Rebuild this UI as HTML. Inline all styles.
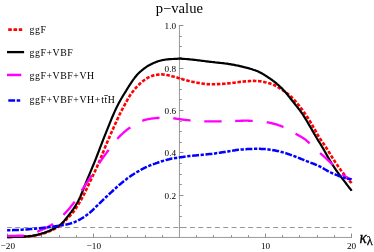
<!DOCTYPE html>
<html><head><meta charset="utf-8"><title>p-value</title>
<style>
html,body{margin:0;padding:0;background:#fff;}
body{width:374px;height:252px;overflow:hidden;font-family:"Liberation Serif",serif;}
svg{display:block;will-change:transform;}
svg text{font-family:"Liberation Serif",serif;fill:#000;}
</style></head><body>
<svg width="374" height="252" viewBox="0 0 374 252">
<rect width="374" height="252" fill="#fff"/>
<g stroke="#8c8c8c" stroke-width="1" fill="none">
<line x1="7" y1="237.45" x2="352" y2="237.45" stroke-width="0.88"/>
<line x1="179.45" y1="237.45" x2="179.45" y2="25" stroke-width="0.88"/>
<line x1="7.5" y1="237.45" x2="7.5" y2="233.55"/><line x1="24.5" y1="237.45" x2="24.5" y2="235.15"/><line x1="41.5" y1="237.45" x2="41.5" y2="235.15"/><line x1="59.5" y1="237.45" x2="59.5" y2="235.15"/><line x1="76.5" y1="237.45" x2="76.5" y2="235.15"/><line x1="93.5" y1="237.45" x2="93.5" y2="233.55"/><line x1="110.5" y1="237.45" x2="110.5" y2="235.15"/><line x1="127.5" y1="237.45" x2="127.5" y2="235.15"/><line x1="145.5" y1="237.45" x2="145.5" y2="235.15"/><line x1="162.5" y1="237.45" x2="162.5" y2="235.15"/><line x1="196.5" y1="237.45" x2="196.5" y2="235.15"/><line x1="213.5" y1="237.45" x2="213.5" y2="235.15"/><line x1="231.5" y1="237.45" x2="231.5" y2="235.15"/><line x1="248.5" y1="237.45" x2="248.5" y2="235.15"/><line x1="265.5" y1="237.45" x2="265.5" y2="233.55"/><line x1="282.5" y1="237.45" x2="282.5" y2="235.15"/><line x1="299.5" y1="237.45" x2="299.5" y2="235.15"/><line x1="317.5" y1="237.45" x2="317.5" y2="235.15"/><line x1="334.5" y1="237.45" x2="334.5" y2="235.15"/><line x1="351.5" y1="237.45" x2="351.5" y2="233.55"/><line x1="179.45" y1="227.5" x2="181.75" y2="227.5"/><line x1="179.45" y1="216.5" x2="181.75" y2="216.5"/><line x1="179.45" y1="205.5" x2="181.75" y2="205.5"/><line x1="179.45" y1="195.5" x2="183.45" y2="195.5"/><line x1="179.45" y1="184.5" x2="181.75" y2="184.5"/><line x1="179.45" y1="174.5" x2="181.75" y2="174.5"/><line x1="179.45" y1="163.5" x2="181.75" y2="163.5"/><line x1="179.45" y1="152.5" x2="183.45" y2="152.5"/><line x1="179.45" y1="142.5" x2="181.75" y2="142.5"/><line x1="179.45" y1="131.5" x2="181.75" y2="131.5"/><line x1="179.45" y1="121.5" x2="181.75" y2="121.5"/><line x1="179.45" y1="110.5" x2="183.45" y2="110.5"/><line x1="179.45" y1="99.5" x2="181.75" y2="99.5"/><line x1="179.45" y1="89.5" x2="181.75" y2="89.5"/><line x1="179.45" y1="78.5" x2="181.75" y2="78.5"/><line x1="179.45" y1="68.5" x2="183.45" y2="68.5"/><line x1="179.45" y1="57.5" x2="181.75" y2="57.5"/><line x1="179.45" y1="46.5" x2="181.75" y2="46.5"/><line x1="179.45" y1="36.5" x2="181.75" y2="36.5"/><line x1="179.45" y1="25.5" x2="183.45" y2="25.5"/>
</g>
<line x1="6.95" y1="227.5" x2="351.7" y2="227.5" stroke="#969696" stroke-width="1" stroke-dasharray="4.9 3.42"/>
<g fill="none" stroke-width="2.2" stroke-linejoin="round">
<path d="M7.1,236.9 L8.1,236.9 L9.1,236.9 L10.1,236.9 L11.1,236.9 L12.1,236.9 L13.1,236.8 L14.1,236.8 L15.1,236.8 L16.1,236.8 L17.1,236.8 L18.1,236.7 L19.1,236.7 L20.1,236.7 L21.1,236.7 L22.1,236.6 L23.1,236.6 L24.1,236.5 L25.1,236.5 L26.1,236.4 L27.1,236.3 L28.1,236.3 L29.1,236.2 L30.1,236.1 L31.1,236.0 L32.1,235.9 L33.1,235.8 L34.1,235.6 L35.1,235.5 L36.1,235.3 L37.1,235.1 L38.1,234.9 L39.1,234.6 L40.1,234.4 L41.1,234.1 L42.1,233.9 L43.1,233.6 L44.1,233.3 L45.1,232.9 L46.1,232.6 L47.1,232.2 L48.1,231.8 L49.1,231.4 L50.1,231.0 L51.1,230.5 L52.1,230.1 L53.1,229.6 L54.1,229.1 L55.1,228.5 L56.1,228.0 L57.1,227.5 L58.1,226.9 L59.1,226.2 L60.1,225.6 L61.1,224.8 L62.1,223.9 L63.1,223.0 L64.1,221.9 L65.1,220.9 L66.1,219.8 L67.1,218.7 L68.1,217.7 L69.1,216.7 L70.1,215.6 L71.1,214.6 L72.1,213.5 L73.1,212.3 L74.1,211.0 L75.1,209.5 L76.1,208.0 L77.1,206.4 L78.1,204.8 L79.1,203.2 L80.1,201.5 L81.1,199.8 L82.1,198.0 L83.1,196.1 L84.1,194.2 L85.1,192.1 L86.1,190.0 L87.1,187.9 L88.1,185.8 L89.1,183.6 L90.1,181.5 L91.1,179.4 L92.1,177.3 L93.1,175.2 L94.1,173.1 L95.1,171.0 L96.1,168.8 L97.1,166.6 L98.1,164.3 L99.1,162.0 L100.1,159.6 L101.1,157.2 L102.1,154.7 L103.1,152.2 L104.1,149.8 L105.1,147.3 L106.1,144.9 L107.1,142.6 L108.1,140.2 L109.1,137.9 L110.1,135.6 L111.1,133.3 L112.1,131.0 L113.1,128.8 L114.1,126.5 L115.1,124.3 L116.1,122.1 L117.1,119.9 L118.1,117.7 L119.1,115.5 L120.1,113.5 L121.1,111.5 L122.1,109.6 L123.1,107.7 L124.1,105.9 L125.1,104.1 L126.1,102.3 L127.1,100.4 L128.1,98.6 L129.1,96.9 L130.1,95.3 L131.1,93.9 L132.1,92.5 L133.1,91.2 L134.1,89.9 L135.1,88.7 L136.1,87.6 L137.1,86.5 L138.1,85.5 L139.1,84.5 L140.1,83.5 L141.1,82.6 L142.1,81.8 L143.1,81.0 L144.1,80.2 L145.1,79.5 L146.1,78.8 L147.1,78.2 L148.1,77.6 L149.1,77.1 L150.1,76.7 L151.1,76.3 L152.1,75.9 L153.1,75.6 L154.1,75.3 L155.1,75.0 L156.1,74.9 L157.1,74.7 L158.1,74.6 L159.1,74.5 L160.1,74.4 L161.1,74.4 L162.1,74.4 L163.1,74.5 L164.1,74.6 L165.1,74.7 L166.1,74.9 L167.1,75.1 L168.1,75.3 L169.1,75.5 L170.1,75.8 L171.1,76.0 L172.1,76.3 L173.1,76.5 L174.1,76.8 L175.1,77.1 L176.1,77.4 L177.1,77.6 L178.1,77.9 L179.1,78.2 L180.1,78.5 L181.1,78.8 L182.1,79.1 L183.1,79.4 L184.1,79.7 L185.1,80.0 L186.1,80.2 L187.1,80.5 L188.1,80.8 L189.1,81.0 L190.1,81.3 L191.1,81.5 L192.1,81.7 L193.1,81.9 L194.1,82.1 L195.1,82.3 L196.1,82.5 L197.1,82.7 L198.1,82.9 L199.1,83.0 L200.1,83.2 L201.1,83.4 L202.1,83.5 L203.1,83.7 L204.1,83.8 L205.1,83.9 L206.1,84.0 L207.1,84.1 L208.1,84.2 L209.1,84.2 L210.1,84.3 L211.1,84.3 L212.1,84.3 L213.1,84.3 L214.1,84.2 L215.1,84.2 L216.1,84.2 L217.1,84.1 L218.1,84.1 L219.1,84.0 L220.1,84.0 L221.1,83.9 L222.1,83.9 L223.1,83.8 L224.1,83.7 L225.1,83.7 L226.1,83.6 L227.1,83.5 L228.1,83.4 L229.1,83.3 L230.1,83.2 L231.1,83.1 L232.1,83.0 L233.1,82.8 L234.1,82.7 L235.1,82.6 L236.1,82.4 L237.1,82.3 L238.1,82.2 L239.1,82.0 L240.1,81.9 L241.1,81.8 L242.1,81.7 L243.1,81.6 L244.1,81.5 L245.1,81.4 L246.1,81.3 L247.1,81.2 L248.1,81.2 L249.1,81.1 L250.1,81.0 L251.1,81.0 L252.1,80.9 L253.1,80.9 L254.1,80.9 L255.1,81.0 L256.1,81.0 L257.1,81.1 L258.1,81.1 L259.1,81.2 L260.1,81.3 L261.1,81.4 L262.1,81.6 L263.1,81.7 L264.1,81.9 L265.1,82.2 L266.1,82.4 L267.1,82.7 L268.1,82.9 L269.1,83.2 L270.1,83.5 L271.1,83.9 L272.1,84.2 L273.1,84.6 L274.1,85.0 L275.1,85.5 L276.1,86.0 L277.1,86.5 L278.1,87.2 L279.1,87.8 L280.1,88.5 L281.1,89.2 L282.1,89.9 L283.1,90.5 L284.1,91.2 L285.1,91.9 L286.1,92.6 L287.1,93.3 L288.1,94.1 L289.1,94.9 L290.1,95.8 L291.1,96.7 L292.1,97.7 L293.1,98.8 L294.1,99.8 L295.1,100.9 L296.1,102.1 L297.1,103.3 L298.1,104.5 L299.1,105.7 L300.1,107.0 L301.1,108.3 L302.1,109.6 L303.1,111.0 L304.1,112.4 L305.1,113.8 L306.1,115.3 L307.1,116.8 L308.1,118.3 L309.1,119.9 L310.1,121.5 L311.1,123.2 L312.1,124.9 L313.1,126.7 L314.1,128.4 L315.1,130.2 L316.1,132.0 L317.1,133.8 L318.1,135.5 L319.1,137.1 L320.1,138.6 L321.1,140.1 L322.1,141.6 L323.1,143.1 L324.1,144.5 L325.1,146.0 L326.1,147.5 L327.1,149.1 L328.1,150.7 L329.1,152.3 L330.1,153.9 L331.1,155.6 L332.1,157.2 L333.1,158.8 L334.1,160.3 L335.1,161.9 L336.1,163.4 L337.1,164.8 L338.1,166.3 L339.1,167.7 L340.1,169.1 L341.1,170.5 L342.1,171.8 L343.1,173.0 L344.1,174.3 L345.1,175.5 L346.1,176.8 L347.1,178.0 L348.1,179.2 L349.1,180.5 L350.1,181.6 L351.1,182.7 L351.5,183.7" stroke="#f00" stroke-width="2.6" stroke-dasharray="3.5 1.67" stroke-dashoffset="4.94"/>
<path d="M7.1,237.1 L8.1,237.1 L9.1,237.1 L10.1,237.1 L11.1,237.1 L12.1,237.1 L13.1,237.0 L14.1,237.0 L15.1,237.0 L16.1,237.0 L17.1,237.0 L18.1,236.9 L19.1,236.9 L20.1,236.9 L21.1,236.9 L22.1,236.8 L23.1,236.8 L24.1,236.7 L25.1,236.6 L26.1,236.5 L27.1,236.4 L28.1,236.4 L29.1,236.2 L30.1,236.1 L31.1,236.0 L32.1,235.9 L33.1,235.7 L34.1,235.5 L35.1,235.3 L36.1,235.1 L37.1,234.8 L38.1,234.6 L39.1,234.3 L40.1,234.0 L41.1,233.7 L42.1,233.4 L43.1,233.1 L44.1,232.8 L45.1,232.4 L46.1,232.1 L47.1,231.7 L48.1,231.3 L49.1,230.9 L50.1,230.4 L51.1,229.9 L52.1,229.4 L53.1,228.9 L54.1,228.4 L55.1,227.9 L56.1,227.3 L57.1,226.8 L58.1,226.2 L59.1,225.6 L60.1,224.9 L61.1,224.1 L62.1,223.1 L63.1,222.0 L64.1,220.9 L65.1,219.7 L66.1,218.5 L67.1,217.2 L68.1,216.0 L69.1,214.7 L70.1,213.4 L71.1,212.1 L72.1,210.7 L73.1,209.3 L74.1,207.8 L75.1,206.3 L76.1,204.7 L77.1,203.0 L78.1,201.2 L79.1,199.2 L80.1,197.1 L81.1,194.8 L82.1,192.4 L83.1,189.9 L84.1,187.4 L85.1,184.9 L86.1,182.4 L87.1,179.9 L88.1,177.5 L89.1,175.1 L90.1,172.7 L91.1,170.3 L92.1,167.9 L93.1,165.5 L94.1,163.1 L95.1,160.6 L96.1,158.1 L97.1,155.5 L98.1,152.9 L99.1,150.3 L100.1,147.7 L101.1,145.1 L102.1,142.5 L103.1,139.9 L104.1,137.4 L105.1,134.9 L106.1,132.4 L107.1,129.8 L108.1,127.3 L109.1,124.8 L110.1,122.3 L111.1,119.9 L112.1,117.5 L113.1,115.2 L114.1,112.9 L115.1,110.6 L116.1,108.5 L117.1,106.4 L118.1,104.5 L119.1,102.6 L120.1,100.8 L121.1,99.0 L122.1,97.3 L123.1,95.6 L124.1,94.0 L125.1,92.4 L126.1,90.8 L127.1,89.1 L128.1,87.5 L129.1,85.9 L130.1,84.3 L131.1,82.8 L132.1,81.3 L133.1,79.9 L134.1,78.6 L135.1,77.2 L136.1,76.0 L137.1,74.8 L138.1,73.8 L139.1,72.8 L140.1,71.8 L141.1,71.0 L142.1,70.1 L143.1,69.3 L144.1,68.5 L145.1,67.8 L146.1,67.1 L147.1,66.4 L148.1,65.8 L149.1,65.3 L150.1,64.7 L151.1,64.2 L152.1,63.7 L153.1,63.2 L154.1,62.8 L155.1,62.4 L156.1,62.0 L157.1,61.6 L158.1,61.3 L159.1,61.0 L160.1,60.7 L161.1,60.5 L162.1,60.2 L163.1,60.0 L164.1,59.8 L165.1,59.7 L166.1,59.5 L167.1,59.4 L168.1,59.3 L169.1,59.2 L170.1,59.2 L171.1,59.1 L172.1,59.0 L173.1,59.0 L174.1,58.9 L175.1,58.9 L176.1,58.8 L177.1,58.8 L178.1,58.7 L179.1,58.7 L180.1,58.7 L181.1,58.7 L182.1,58.8 L183.1,58.8 L184.1,58.9 L185.1,59.0 L186.1,59.0 L187.1,59.1 L188.1,59.2 L189.1,59.3 L190.1,59.4 L191.1,59.5 L192.1,59.6 L193.1,59.7 L194.1,59.8 L195.1,59.9 L196.1,60.0 L197.1,60.2 L198.1,60.3 L199.1,60.4 L200.1,60.5 L201.1,60.7 L202.1,60.8 L203.1,60.9 L204.1,61.0 L205.1,61.2 L206.1,61.3 L207.1,61.4 L208.1,61.6 L209.1,61.7 L210.1,61.8 L211.1,61.9 L212.1,62.0 L213.1,62.1 L214.1,62.2 L215.1,62.4 L216.1,62.5 L217.1,62.6 L218.1,62.7 L219.1,62.8 L220.1,62.9 L221.1,63.0 L222.1,63.1 L223.1,63.2 L224.1,63.3 L225.1,63.5 L226.1,63.6 L227.1,63.7 L228.1,63.9 L229.1,64.1 L230.1,64.2 L231.1,64.4 L232.1,64.6 L233.1,64.7 L234.1,64.9 L235.1,65.1 L236.1,65.3 L237.1,65.5 L238.1,65.7 L239.1,65.9 L240.1,66.2 L241.1,66.4 L242.1,66.6 L243.1,66.8 L244.1,67.1 L245.1,67.3 L246.1,67.6 L247.1,67.8 L248.1,68.1 L249.1,68.4 L250.1,68.7 L251.1,69.0 L252.1,69.3 L253.1,69.7 L254.1,70.0 L255.1,70.3 L256.1,70.7 L257.1,71.1 L258.1,71.5 L259.1,72.0 L260.1,72.5 L261.1,73.0 L262.1,73.5 L263.1,74.1 L264.1,74.7 L265.1,75.4 L266.1,76.0 L267.1,76.6 L268.1,77.3 L269.1,78.0 L270.1,78.6 L271.1,79.3 L272.1,80.0 L273.1,80.8 L274.1,81.5 L275.1,82.3 L276.1,83.1 L277.1,84.0 L278.1,84.8 L279.1,85.7 L280.1,86.7 L281.1,87.6 L282.1,88.6 L283.1,89.7 L284.1,90.7 L285.1,91.8 L286.1,93.0 L287.1,94.2 L288.1,95.5 L289.1,96.7 L290.1,98.0 L291.1,99.3 L292.1,100.5 L293.1,101.8 L294.1,103.0 L295.1,104.3 L296.1,105.6 L297.1,106.8 L298.1,108.1 L299.1,109.4 L300.1,110.7 L301.1,112.1 L302.1,113.5 L303.1,115.0 L304.1,116.6 L305.1,118.2 L306.1,119.8 L307.1,121.5 L308.1,123.2 L309.1,124.9 L310.1,126.6 L311.1,128.3 L312.1,130.1 L313.1,131.8 L314.1,133.6 L315.1,135.3 L316.1,137.0 L317.1,138.7 L318.1,140.3 L319.1,141.9 L320.1,143.5 L321.1,145.1 L322.1,146.8 L323.1,148.4 L324.1,150.2 L325.1,152.0 L326.1,153.8 L327.1,155.6 L328.1,157.4 L329.1,159.1 L330.1,160.8 L331.1,162.5 L332.1,164.1 L333.1,165.6 L334.1,167.1 L335.1,168.6 L336.1,170.1 L337.1,171.5 L338.1,173.0 L339.1,174.3 L340.1,175.7 L341.1,177.0 L342.1,178.3 L343.1,179.6 L344.1,180.9 L345.1,182.2 L346.1,183.5 L347.1,184.9 L348.1,186.2 L349.1,187.5 L350.1,188.7 L351.1,189.9 L351.5,190.9" stroke="#000"/>
<path d="M7.1,235.8 L8.1,235.8 L9.1,235.8 L10.1,235.8 L11.1,235.8 L12.1,235.8 L13.1,235.8 L14.1,235.8 L15.1,235.8 L16.1,235.8 L17.1,235.7 L18.1,235.7 L19.1,235.7 L20.1,235.7 L21.1,235.7 L22.1,235.7 L23.1,235.6 L24.1,235.6 L24.1,235.6 M37.2,231.6 L38.1,231.3 L39.1,230.9 L40.1,230.5 L41.1,230.1 L42.1,229.7 L43.1,229.2 L44.1,228.8 L45.1,228.4 L46.1,227.9 L47.1,227.4 L48.1,226.9 L49.1,226.4 L50.1,225.8 L51.1,225.2 L52.1,224.6 L53.0,224.0 M63.5,214.8 L64.1,214.2 L65.1,213.2 L66.1,212.1 L67.1,211.0 L68.1,209.9 L69.1,208.7 L70.1,207.6 L71.1,206.3 L72.1,205.1 L73.1,203.8 L74.1,202.4 L74.6,201.6 M81.6,190.5 L82.1,189.8 L83.1,188.3 L84.1,186.8 L85.1,185.3 L86.1,183.8 L87.1,182.4 L88.1,180.9 L89.1,179.4 L90.1,177.9 L91.1,176.3 L91.9,175.0 M99.1,163.3 L100.1,161.8 L101.1,160.4 L102.1,158.9 L103.1,157.5 L104.1,156.1 L105.1,154.7 L106.1,153.4 L107.1,152.0 L108.1,150.7 L108.7,149.8 M117.3,138.8 L118.1,138.0 L119.1,136.9 L120.1,135.9 L121.1,134.9 L122.1,134.0 L123.1,133.1 L124.1,132.2 L125.1,131.3 L126.1,130.5 L127.1,129.7 L128.1,128.9 L129.1,128.2 L130.1,127.5 L130.3,127.3 M142.3,120.8 L143.1,120.5 L144.1,120.2 L145.1,119.9 L146.1,119.6 L147.1,119.4 L148.1,119.2 L149.1,119.0 L150.1,118.8 L151.1,118.7 L152.1,118.5 L153.1,118.4 L154.1,118.3 L155.1,118.2 L156.1,118.1 L157.1,118.0 L158.1,118.0 L159.1,117.9 L159.5,117.9 M173.2,118.3 L174.1,118.4 L175.1,118.5 L176.1,118.6 L177.1,118.8 L178.1,118.9 L179.1,119.1 L180.1,119.2 L181.1,119.4 L182.1,119.5 L183.1,119.6 L184.1,119.8 L185.1,119.9 L186.1,120.0 L187.1,120.1 L188.1,120.2 L189.1,120.3 L190.1,120.4 L190.6,120.4 M204.3,121.3 L205.1,121.3 L206.1,121.3 L207.1,121.3 L208.1,121.3 L209.1,121.3 L210.1,121.3 L211.1,121.3 L212.1,121.3 L213.1,121.3 L214.1,121.3 L215.1,121.3 L216.1,121.3 L217.1,121.3 L218.1,121.3 L219.1,121.3 L220.1,121.3 L221.1,121.3 L221.6,121.3 M235.2,121.0 L236.1,121.0 L237.1,120.9 L238.1,120.9 L239.1,120.8 L240.1,120.8 L241.1,120.7 L242.1,120.7 L243.1,120.7 L244.1,120.6 L245.1,120.6 L246.1,120.6 L247.1,120.6 L248.1,120.7 L249.1,120.7 L250.1,120.8 L251.1,120.8 L252.1,120.9 L252.7,120.9 M266.7,122.2 L267.1,122.3 L268.1,122.4 L269.1,122.6 L270.1,122.8 L271.1,123.0 L272.1,123.3 L273.1,123.5 L274.1,123.8 L275.1,124.1 L276.1,124.4 L277.1,124.7 L278.1,125.0 L279.1,125.4 L280.1,125.7 L281.1,126.1 L282.1,126.5 L283.1,126.9 L283.5,127.0 M295.5,133.7 L296.1,134.0 L297.1,134.6 L298.1,135.1 L299.1,135.7 L300.1,136.2 L301.1,136.8 L302.1,137.4 L303.1,138.1 L304.1,138.7 L305.1,139.4 L306.1,140.2 L307.1,141.1 L308.1,141.9 L309.1,142.8 L309.6,143.3 M320.1,153.0 L321.1,153.9 L322.1,154.8 L323.1,155.7 L324.1,156.6 L325.1,157.5 L326.1,158.5 L327.1,159.4 L328.1,160.3 L329.1,161.2 L330.1,162.2 L331.1,163.1 L332.1,164.1 L332.7,164.8 M342.1,174.3 L343.1,175.0 L344.1,175.7 L345.1,176.3 L346.1,176.9 L347.1,177.5 L348.1,178.0 L349.1,178.5 L350.1,178.9 L351.1,179.2 L351.5,179.5" stroke="#f0f" stroke-width="2.35"/>
<path d="M7.1,230.3 L8.1,230.3 L9.1,230.3 L10.1,230.2 L11.1,230.2 L12.1,230.2 L13.1,230.1 L14.1,230.1 L15.1,230.1 L16.1,230.0 L17.1,230.0 L18.1,229.9 L19.1,229.9 L20.1,229.8 L21.1,229.7 L22.1,229.7 L23.1,229.6 L24.1,229.6 L25.1,229.5 L26.1,229.4 L27.1,229.4 L28.1,229.3 L29.1,229.2 L30.1,229.1 L31.1,229.1 L32.1,229.0 L33.1,228.9 L34.1,228.8 L35.1,228.7 L36.1,228.6 L37.1,228.5 L38.1,228.4 L39.1,228.3 L40.1,228.2 L41.1,228.1 L42.1,228.0 L43.1,227.8 L44.1,227.7 L45.1,227.6 L46.1,227.5 L47.1,227.3 L48.1,227.2 L49.1,227.1 L50.1,227.0 L51.1,226.8 L52.1,226.7 L53.1,226.6 L54.1,226.4 L55.1,226.3 L56.1,226.2 L57.1,226.0 L58.1,225.9 L59.1,225.7 L60.1,225.6 L61.1,225.4 L62.1,225.3 L63.1,225.1 L64.1,225.0 L65.1,224.8 L66.1,224.6 L67.1,224.4 L68.1,224.1 L69.1,223.9 L70.1,223.6 L71.1,223.3 L72.1,223.0 L73.1,222.6 L74.1,222.3 L75.1,221.9 L76.1,221.4 L77.1,221.0 L78.1,220.5 L79.1,219.9 L80.1,219.4 L81.1,218.8 L82.1,218.2 L83.1,217.6 L84.1,216.9 L85.1,216.2 L86.1,215.5 L87.1,214.8 L88.1,214.0 L89.1,213.2 L90.1,212.4 L91.1,211.5 L92.1,210.6 L93.1,209.7 L94.1,208.7 L95.1,207.7 L96.1,206.7 L97.1,205.7 L98.1,204.8 L99.1,203.8 L100.1,202.8 L101.1,201.8 L102.1,200.9 L103.1,199.9 L104.1,199.0 L105.1,198.0 L106.1,197.0 L107.1,196.1 L108.1,195.2 L109.1,194.2 L110.1,193.3 L111.1,192.4 L112.1,191.5 L113.1,190.5 L114.1,189.6 L115.1,188.7 L116.1,187.8 L117.1,186.9 L118.1,186.0 L119.1,185.1 L120.1,184.3 L121.1,183.4 L122.1,182.6 L123.1,181.7 L124.1,180.9 L125.1,180.1 L126.1,179.4 L127.1,178.6 L128.1,177.9 L129.1,177.2 L130.1,176.5 L131.1,175.8 L132.1,175.1 L133.1,174.5 L134.1,173.8 L135.1,173.2 L136.1,172.6 L137.1,172.0 L138.1,171.4 L139.1,170.9 L140.1,170.3 L141.1,169.7 L142.1,169.2 L143.1,168.6 L144.1,168.1 L145.1,167.6 L146.1,167.1 L147.1,166.6 L148.1,166.2 L149.1,165.8 L150.1,165.4 L151.1,165.0 L152.1,164.6 L153.1,164.3 L154.1,163.9 L155.1,163.6 L156.1,163.2 L157.1,162.9 L158.1,162.5 L159.1,162.2 L160.1,161.9 L161.1,161.5 L162.1,161.2 L163.1,160.9 L164.1,160.6 L165.1,160.3 L166.1,160.0 L167.1,159.8 L168.1,159.5 L169.1,159.3 L170.1,159.0 L171.1,158.8 L172.1,158.6 L173.1,158.5 L174.1,158.3 L175.1,158.1 L176.1,158.0 L177.1,157.8 L178.1,157.7 L179.1,157.5 L180.1,157.3 L181.1,157.2 L182.1,157.0 L183.1,156.9 L184.1,156.7 L185.1,156.6 L186.1,156.4 L187.1,156.3 L188.1,156.2 L189.1,156.1 L190.1,156.0 L191.1,155.9 L192.1,155.8 L193.1,155.7 L194.1,155.6 L195.1,155.5 L196.1,155.4 L197.1,155.3 L198.1,155.2 L199.1,155.1 L200.1,155.0 L201.1,154.9 L202.1,154.8 L203.1,154.7 L204.1,154.6 L205.1,154.5 L206.1,154.4 L207.1,154.3 L208.1,154.2 L209.1,154.1 L210.1,154.0 L211.1,153.9 L212.1,153.8 L213.1,153.6 L214.1,153.5 L215.1,153.4 L216.1,153.2 L217.1,153.1 L218.1,153.0 L219.1,152.8 L220.1,152.7 L221.1,152.5 L222.1,152.3 L223.1,152.2 L224.1,152.0 L225.1,151.9 L226.1,151.7 L227.1,151.5 L228.1,151.4 L229.1,151.2 L230.1,151.1 L231.1,150.9 L232.1,150.7 L233.1,150.6 L234.1,150.4 L235.1,150.3 L236.1,150.1 L237.1,150.0 L238.1,149.8 L239.1,149.7 L240.1,149.6 L241.1,149.5 L242.1,149.4 L243.1,149.4 L244.1,149.3 L245.1,149.2 L246.1,149.2 L247.1,149.1 L248.1,149.1 L249.1,149.0 L250.1,149.0 L251.1,148.9 L252.1,148.9 L253.1,148.8 L254.1,148.8 L255.1,148.8 L256.1,148.8 L257.1,148.8 L258.1,148.8 L259.1,148.8 L260.1,148.8 L261.1,148.9 L262.1,148.9 L263.1,148.9 L264.1,149.0 L265.1,149.1 L266.1,149.2 L267.1,149.3 L268.1,149.4 L269.1,149.5 L270.1,149.7 L271.1,149.8 L272.1,150.0 L273.1,150.2 L274.1,150.3 L275.1,150.5 L276.1,150.7 L277.1,150.9 L278.1,151.1 L279.1,151.4 L280.1,151.6 L281.1,151.9 L282.1,152.1 L283.1,152.4 L284.1,152.7 L285.1,153.0 L286.1,153.3 L287.1,153.6 L288.1,154.0 L289.1,154.3 L290.1,154.7 L291.1,155.0 L292.1,155.4 L293.1,155.8 L294.1,156.1 L295.1,156.5 L296.1,156.9 L297.1,157.3 L298.1,157.7 L299.1,158.1 L300.1,158.5 L301.1,158.9 L302.1,159.3 L303.1,159.7 L304.1,160.1 L305.1,160.5 L306.1,160.9 L307.1,161.3 L308.1,161.7 L309.1,162.1 L310.1,162.5 L311.1,162.9 L312.1,163.2 L313.1,163.6 L314.1,164.0 L315.1,164.4 L316.1,164.8 L317.1,165.2 L318.1,165.7 L319.1,166.2 L320.1,166.7 L321.1,167.2 L322.1,167.7 L323.1,168.3 L324.1,168.9 L325.1,169.5 L326.1,170.0 L327.1,170.6 L328.1,171.2 L329.1,171.7 L330.1,172.2 L331.1,172.7 L332.1,173.1 L333.1,173.6 L334.1,174.0 L335.1,174.4 L336.1,174.8 L337.1,175.2 L338.1,175.6 L339.1,176.0 L340.1,176.4 L341.1,176.7 L342.1,177.1 L343.1,177.5 L344.1,177.8 L345.1,178.1 L346.1,178.3 L347.1,178.6 L348.1,178.8 L349.1,178.9 L350.1,179.1 L351.1,179.2 L351.5,179.3" stroke="#00f" stroke-width="2.5" stroke-dasharray="3.3 1.6 6.95 1.6"/>
</g>
<g font-size="9.2" letter-spacing="0.05"><text x="164.6" y="198.70">0.2</text><text x="164.6" y="155.70">0.4</text><text x="164.6" y="113.70">0.6</text><text x="164.6" y="71.70">0.8</text><text x="164.6" y="28.70">1.0</text><text x="7.80" y="249.3" text-anchor="middle">−20</text><text x="93.80" y="249.3" text-anchor="middle">−10</text><text x="265.60" y="249.3" text-anchor="middle">10</text><text x="351.60" y="249.3" text-anchor="middle">20</text></g>
<text x="155.8" y="12.8" font-size="14.6">p−value</text>
<text transform="translate(359.4,242.5) scale(0.9,1)" font-size="16.9" font-style="italic" stroke="#000" stroke-width="0.35">κ</text>
<text x="366.7" y="245.0" font-size="12.4" stroke="#000" stroke-width="0.25">λ</text>
<g fill="none">
<line x1="8.2" y1="29.6" x2="22.2" y2="29.6" stroke="#f00" stroke-width="2.6" stroke-dasharray="3.6 1.7"/>
<line x1="7.0" y1="52.1" x2="24.1" y2="52.1" stroke="#000" stroke-width="2.3"/>
<line x1="7.0" y1="74.95" x2="21.3" y2="74.95" stroke="#f0f" stroke-width="2.5"/>
<line x1="8.3" y1="100.45" x2="20.2" y2="100.45" stroke="#00f" stroke-width="2.5" stroke-dasharray="6.8 1.6 3.5 1.6"/>
</g>
<g font-size="9.8" letter-spacing="0.57">
<text x="29.5" y="32.8">ggF</text>
<text x="29.5" y="55.8">ggF+VBF</text>
<text x="29.5" y="78.6">ggF+VBF+VH</text>
<text x="29.5" y="103.2">ggF+VBF+VH+</text>
<text x="101.2" y="103.2">tt</text>
<text x="107.8" y="103.2">H</text>
</g>
<line x1="104.3" y1="95.5" x2="107.8" y2="95.5" stroke="#000" stroke-width="0.7"/>
</svg>
</body></html>
